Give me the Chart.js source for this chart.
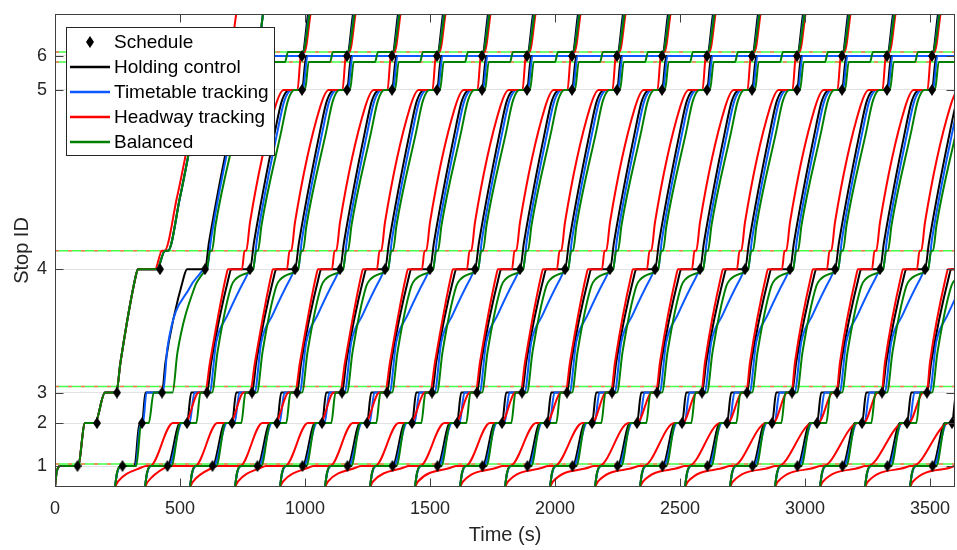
<!DOCTYPE html>
<html><head><meta charset="utf-8">
<script src="https://cdn.jsdelivr.net/npm/chart.js@4.4.0/dist/chart.umd.min.js"></script>
<style>html,body{margin:0;padding:0;background:#fff;overflow:hidden}</style>
</head><body>
<canvas id="c" width="957" height="550"></canvas>
<script>
// ---------- data ----------
const stopNames = ['1','2','3','4','5','6'];
const S1=210,S2=640,S3=945,S4=2180,SC=2365,S5=3975,SD=4255,S6=4315,SE=4355,TOP=4735,OUT=4950;
const stopPos = [S1,S2,S3,S4,S5,S6];
const signalPos = [230,1005,2365,4255,4355];
const xTickVals = [0,500,1000,1500,2000,2500,3000,3500];

const busBase  = [0,180,360,540,720,900,1080,1260,1440,1620,1800,1980,2160,2340,2520,2700,2880,3060,3240,3420];
const dispatch = [0,240,360,540,720,900,1080,1260,1440,1620,1800,1980,2160,2340,2520,2700,2880,3060,3240,3420];

// scheduled times at each stop (diamonds)
const sched1 = [90,270,450,630,810,990,1170,1350,1530,1710,1890,2070,2250,2430,2610,2790,2970,3150,3330,3510];
const sched2 = [168,348,528,708,888,1068,1248,1428,1608,1788,1968,2148,2328,2508,2688,2868,3048,3228,3408,3588];
const sched3 = [248,428,608,788,968,1148,1328,1508,1688,1868,2048,2228,2408,2588,2768,2948,3128,3308,3488];
const sched4 = [420,600,780,960,1140,1320,1500,1680,1860,2040,2220,2400,2580,2760,2940,3120,3300,3480];
const sched5 = [628,808,988,1168,1348,1528,1708,1888,2068,2248,2428,2608,2788,2968,3148,3328,3508];
const sched6 = [808,988,1168,1348,1528,1708,1888,2068,2248,2428,2608,2788,2968,3148,3328,3508];

// typical trajectories (time after scheduled base, position)
const blackT = [0,8,22,90,140,168,185,248,265,335,345,420,436,520,548,578,628,645,808,832,846];
const blackP = [0,140,S1,S1,S2,S2,S3,S3,1250,2100,S4,S4,2450,3560,3870,S5,S5,S6,S6,TOP,OUT];
const blueT  = [0,8,25,95,148,178,198,258,285,330,400,425,432,448,530,558,588,632,650,810,836,848];
const blueP  = [0,130,S1,S1,S2,S2,S3,S3,1450,1720,2080,S4,S4,2480,3560,3870,S5,S5,S6,S6,TOP,OUT];
const greenT = [0,8,22,105,142,205,222,268,290,345,362,425,433,445,452,466,545,572,598,640,655,740,752,812,838,850];
const greenP = [0,140,S1,S1,S2,S2,S3,S3,1350,2010,2080,2160,S4,SC,SC,2620,3560,3870,S5,S5,SD,SD,SE,SE,TOP,OUT];
const redLowP = [0,55,195,S1,S1,S2,S2,S3,S3];
// headway tracking, lower part per bus (k=2..19): [slowEnd, arr1, dep1, arr2, dep2, arr3, dep3]
const redLow = [
 [80,100,200,290,340,395,420],[92,112,200,290,340,395,420],[105,125,200,292,340,395,420],
 [115,135,200,292,340,398,420],[125,145,200,295,342,400,420],[135,155,200,298,342,400,422],
 [145,165,202,300,345,402,422],[150,170,200,305,345,405,422],[152,172,198,310,348,405,424],
 [155,175,196,315,348,408,424],[156,176,194,318,350,408,425],[158,178,194,322,350,410,425],
 [158,178,192,326,352,410,426],[160,180,192,330,352,412,426],[160,180,192,332,354,412,426],
 [160,180,190,334,354,414,427],[161,181,190,336,355,414,427],[162,182,190,338,355,415,428]];
const redUpT = [440,505,512,568,578,585,600,700,735,790,805,818,842,855];
const redUpP = [1250,2120,S4,S4,SC,SC,2650,3800,S5,S5,SE,SE,TOP,OUT];

// first two buses (absolute times)
const bus0T = [0,6,20,92,120,160,200,245,262,322,332,408,440,452,500,580,605,628,645,808,832,846];
const bus0P = [0,140,S1,S1,S2,S2,S3,S3,1250,2100,S4,S4,SC,SC,2900,3850,S5,S5,S6,S6,TOP,OUT];
const red0T = [0,6,20,92,120,160,200,245,262,322,332,400,428,438,488,570,595,640,655,700,725,740];
const red0P = [0,140,S1,S1,S2,S2,S3,S3,1250,2100,S4,S4,SC,SC,2900,3850,S5,S5,SE,SE,TOP,OUT];
const black1T = [240,248,262,318,338,348,362,428,442,515,528,600,616,700,728,758,808,825,988,1012,1026];
const black1P = [0,140,S1,S1,S2,S2,S3,S3,1250,2100,S4,S4,2450,3560,3870,S5,S5,S6,S6,TOP,OUT];
const blue1T = [240,248,265,322,342,352,366,432,450,540,575,598,608,624,706,734,764,812,830,990,1016,1028];
const blue1P = [0,130,S1,S1,S2,S2,S3,S3,1400,2000,2120,S4,S4,2480,3560,3870,S5,S5,S6,S6,TOP,OUT];
const green1T = [240,248,262,325,345,375,395,470,490,560,575,600,608,620,628,642,722,750,776,820,835,920,932,992,1018,1030];
const green1P = [0,140,S1,S1,S2,S2,S3,S3,1350,2010,2080,2160,S4,SC,SC,2620,3560,3870,S5,S5,SD,SD,SE,SE,TOP,OUT];
const red1T = [240,252,345,365,380,472,520,575,600,620,685,692,748,758,765,780,880,915,970,985,998,1022,1035];
const red1P = [0,55,195,S1,S1,S2,S2,S3,S3,1250,2120,S4,S4,SC,SC,2650,3800,S5,S5,SE,SE,TOP,OUT];

const COLORS = {black:'#000000', blue:'#0a5aff', red:'#ff0000', green:'#008000'};
const legendItems = [
  {label:'Schedule', marker:true},
  {label:'Holding control', color:COLORS.black},
  {label:'Timetable tracking', color:COLORS.blue},
  {label:'Headway tracking', color:COLORS.red},
  {label:'Balanced', color:COLORS.green}
];

// target plot rectangle
const AREA = {left:55, top:14, right:955, bottom:487};

// ---------- build ----------
function pts(times, pos, base, start){
  const p = times.map((t,i)=>({x:base+t, y:pos[i]}));
  if (start!==undefined) p[0].x = start;
  return p;
}
const traj = {black:[], blue:[], red:[], green:[]};
busBase.forEach((b,k)=>{
  if (k===0){
    traj.black.push(pts(bus0T,bus0P,0)); traj.blue.push(pts(bus0T,bus0P,0));
    traj.green.push(pts(bus0T,bus0P,0)); traj.red.push(pts(red0T,red0P,0));
  } else if (k===1){
    traj.black.push(pts(black1T,black1P,0)); traj.blue.push(pts(blue1T,blue1P,0));
    traj.green.push(pts(green1T,green1P,0)); traj.red.push(pts(red1T,red1P,0));
  } else {
    traj.black.push(pts(blackT,blackP,b,dispatch[k]));
    traj.blue.push(pts(blueT,blueP,b,dispatch[k]));
    traj.green.push(pts(greenT,greenP,b,dispatch[k]));
    const r = redLow[k-2];
    traj.red.push(pts([0,12].concat(r,redUpT), redLowP.concat(redUpP), b, dispatch[k]));
  }
});

const dia = document.createElement('canvas');
dia.width = 8; dia.height = 12;
(function(){const g=dia.getContext('2d');g.fillStyle='#000';g.beginPath();g.moveTo(4,0);g.lineTo(8,6);g.lineTo(4,12);g.lineTo(0,6);g.closePath();g.fill();})();

const diamonds = [];
[sched1,sched2,sched3,sched4,sched5,sched6].forEach((arr,i)=>arr.forEach(t=>diamonds.push({x:t,y:stopPos[i]})));

const datasets = [];
datasets.push({data:diamonds, showLine:false, pointStyle:dia, pointRadius:5, pointHoverRadius:5, borderColor:'#000', backgroundColor:'#000'});
['green','red','blue','black'].forEach(c=>{
  traj[c].forEach(d=>datasets.push({data:d, borderColor:COLORS[c], borderWidth:2, pointRadius:0, cubicInterpolationMode:'monotone', capBezierPoints:false, fill:false}));
});
signalPos.forEach(v=>{
  datasets.push({data:[{x:0,y:v},{x:3600,y:v}], borderColor:'#ff7a5c', borderWidth:1.5, borderDash:[4,9], pointRadius:0});
  datasets.push({data:[{x:0,y:v},{x:3600,y:v}], borderColor:'#44ff44', borderWidth:1.5, pointRadius:0});
});

// ---------- plugins ----------
const boxPlugin = {
  id:'mlBox',
  afterDatasetsDraw(chart){
    const {ctx, chartArea:a, scales} = chart;
    ctx.save();
    ctx.strokeStyle = '#404040'; ctx.lineWidth = 1;
    const L = Math.round(a.left)+0.5, R = Math.round(a.right)-0.5, T = Math.round(a.top)+0.5, B = Math.round(a.bottom)-0.5;
    ctx.strokeRect(L, T, R-L, B-T);
    ctx.beginPath();
    xTickVals.forEach(v=>{
      const px = Math.round(scales.x.getPixelForValue(v))+0.5;
      ctx.moveTo(px,B); ctx.lineTo(px,B-8);
      ctx.moveTo(px,T); ctx.lineTo(px,T+8);
    });
    stopPos.forEach(v=>{
      const py = Math.round(scales.y.getPixelForValue(v))+0.5;
      ctx.moveTo(L,py); ctx.lineTo(L+8,py);
      ctx.moveTo(R,py); ctx.lineTo(R-8,py);
    });
    ctx.stroke();
    ctx.restore();
  },
  afterDraw(chart){
    const ctx = chart.ctx;
    ctx.save();
    const bx=66.5, by=27.5, bw=208, bh=128;
    ctx.fillStyle='#ffffff'; ctx.fillRect(bx,by,bw,bh);
    ctx.strokeStyle='#262626'; ctx.lineWidth=1; ctx.strokeRect(bx,by,bw,bh);
    ctx.font = '19px "Liberation Sans", Arial, sans-serif';
    ctx.textBaseline = 'middle'; ctx.textAlign = 'left';
    legendItems.forEach((e,i)=>{
      const y = 42 + i*25;
      if (e.marker){ ctx.drawImage(dia, 86, y-6); }
      else { ctx.strokeStyle=e.color; ctx.lineWidth=2.5; ctx.beginPath(); ctx.moveTo(70,y); ctx.lineTo(110,y); ctx.stroke(); }
      ctx.fillStyle='#000'; ctx.fillText(e.label, 114, y+1);
    });
    ctx.restore();
  }
};

function zeroPad(s){ s.paddingTop=0; s.paddingBottom=0; s.paddingLeft=0; s.paddingRight=0; }

Chart.defaults.font.family = '"Liberation Sans", Arial, Helvetica, sans-serif';
Chart.defaults.color = '#262626';

const chart = new Chart(document.getElementById('c'), {
  type:'line',
  data:{datasets},
  plugins:[boxPlugin],
  options:{
    responsive:false, animation:false, events:[],
    layout:{padding:{top:AREA.top,right:957-AREA.right,left:0,bottom:0}, autoPadding:false},
    plugins:{legend:{display:false}, tooltip:{enabled:false}},
    elements:{point:{radius:0}},
    scales:{
      x:{type:'linear', min:0, max:3600,
         afterBuildTicks:s=>{s.ticks = xTickVals.map(v=>({value:v}));},
         ticks:{font:{size:18}, color:'#262626', padding:11, maxRotation:0, autoSkip:false, callback:v=>String(v)},
         grid:{display:false, drawTicks:false},
         border:{display:false},
         title:{display:true, text:'Time (s)', font:{size:20}, color:'#262626', padding:{top:3,bottom:3}},
         afterFit:s=>{s.height = 550-AREA.bottom; zeroPad(s);}
      },
      y:{type:'linear', min:0, max:4735,
         afterBuildTicks:s=>{s.ticks = stopPos.map(v=>({value:v}));},
         ticks:{font:{size:18}, color:'#262626', padding:8, autoSkip:false,
                callback:(v)=>{const i=stopPos.indexOf(v); return i>=0?stopNames[i]:'';}},
         grid:{color:'#e2e2e2', lineWidth:1, drawTicks:false},
         border:{display:false},
         title:{display:true, text:'Stop ID', font:{size:20}, color:'#262626', padding:{top:10,bottom:10}},
         afterFit:s=>{s.width = AREA.left; zeroPad(s);}
      }
    }
  }
});
</script>
</body></html>
